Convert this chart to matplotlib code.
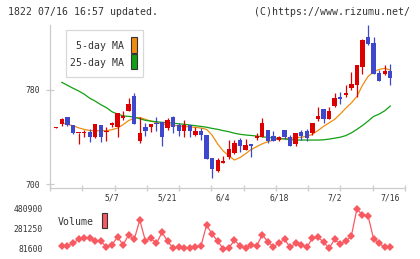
import matplotlib
matplotlib.use("Agg")
import matplotlib.pyplot as plt
from matplotlib.patches import Rectangle
import numpy as np

plt.rcParams['font.family'] = ['DejaVu Sans Mono']

# ---- data ----
opens = [748, 751.3, 757.0, 750.2, 743.1, 743.3, 744.3, 740.3, 750.2, 744.3,
         750.6, 748.2, 756.4, 762.4, 774.9, 736.6, 748.5, 748.5, 752.2, 752.8,
         748.0, 757.0, 750.2, 745.4, 750.5, 741.4, 745.4, 741.7, 722.1, 711.4,
         717.6, 722.7, 726.4, 737.4, 728.9, 733.8, 739.1, 739.7, 745.7, 740.9,
         737.7, 745.7, 740.0, 734.0, 744.3, 744.9, 743.1, 755.1, 763.8, 755.6,
         766.4, 774.0, 775.7, 781.7, 784.6, 799.9, 825.1, 820.2, 794.5, 793.6,
         796.2]
highs = [748.6, 756.4, 757.0, 750.2, 743.7, 746.0, 746.5, 751.1, 750.2, 748.2,
         753.0, 760.4, 762.1, 773.2, 777.5, 756.7, 752.2, 751.3, 756.7, 752.8,
         756.2, 757.9, 752.2, 754.5, 750.5, 748.2, 747.4, 741.7, 722.1, 722.1,
         723.8, 737.2, 737.2, 738.9, 738.3, 733.8, 743.1, 756.2, 745.7, 745.1,
         740.5, 745.7, 741.7, 743.1, 745.7, 747.1, 751.9, 765.3, 763.8, 765.3,
         777.4, 778.0, 784.3, 795.3, 801.3, 823.4, 835.3, 824.8, 797.0, 801.3,
         802.5]
lows = [747.8, 749.4, 749.4, 742.6, 733.8, 740.3, 735.5, 738.9, 735.5, 736.9,
        748.2, 740.3, 754.5, 762.4, 751.3, 735.2, 741.2, 744.6, 745.4, 732.6,
        746.0, 743.1, 741.1, 740.3, 739.7, 741.0, 737.4, 721.6, 705.4, 710.0,
        717.6, 721.6, 725.5, 727.2, 728.9, 722.7, 737.4, 739.7, 735.2, 736.6,
        736.6, 738.0, 732.6, 732.6, 737.4, 736.9, 742.0, 753.9, 751.6, 755.6,
        765.3, 767.8, 774.3, 779.7, 774.0, 793.6, 818.6, 793.4, 787.7, 792.8,
        784.6]
closes = [748, 755.3, 750.2, 743.7, 743.1, 744.3, 739.7, 751.1, 740.3, 745.0,
          751.3, 760.4, 757.9, 768.1, 751.3, 743.1, 745.4, 751.3, 750.8, 740.3,
          754.2, 748.5, 745.4, 750.0, 745.4, 745.4, 741.4, 721.6, 712.5, 720.4,
          719.3, 729.5, 734.9, 732.1, 733.2, 732.6, 741.1, 751.9, 736.6, 736.6,
          740.0, 739.7, 732.6, 743.1, 741.1, 738.9, 751.9, 757.9, 755.1, 762.4,
          772.9, 772.6, 777.7, 785.1, 801.3, 822.6, 819.4, 793.4, 787.7, 796.2,
          790.5]

ma5 = [None, 752, 750.8, 749.5, 747.8, 746.5, 745.5, 745.3, 745.4, 745.4,
       746.2, 747.6, 750.5, 754, 756, 756.6, 755, 753.5, 752.3, 751.3,
       750.5, 750, 749.5, 749, 748.6, 748.2, 747.6, 746.5, 741.5, 734,
       728, 724, 720.4, 722.5, 725.8, 729.3, 731.8, 734.2, 736, 737.4,
       738.2, 738.7, 739, 739.4, 739.8, 740.7, 742.2, 745.5, 749, 752,
       755, 759.5, 764.5, 769, 774.5, 784, 791.5, 795.5, 797.5, 798.4,
       797]
ma25 = [None, 786.5, 784, 781.5, 779.2, 776.5, 773, 770.5, 767.5, 765,
        761.5, 759.5, 758, 757.5, 757, 755.5, 754.2, 753.5, 753, 752.5,
        752.2, 751.8, 751.2, 750.8, 750.2, 749.6, 749, 748.3, 747.3, 746.5,
        745.4, 744.5, 743.2, 742.3, 741.7, 741.3, 740.8, 740.2, 739.6, 739.1,
        738.7, 738.3, 737.8, 737.4, 737.4, 737.4, 737.4, 737.4, 737.6, 738.2,
        739, 739.8, 741.2, 743.5, 746.5, 749.8, 753.5, 757.5, 759.5, 762.3,
        766.4]

volume = [None, 113000, 113000, 138000, 178000, 193000, 193000, 158000, 158000, 104000,
          121000, 204000, 121000, 224000, 178000, 371000, 164000, 188000, 138000, 248000,
          158000, 88600, 104000, 94600, 94600, 104000, 114500, 321000, 228000, 161000,
          81600, 88600, 171400, 111500, 88600, 121500, 111500, 224000, 154500, 104500,
          138500, 178400, 98600, 138500, 121500, 98600, 188400, 198400, 151500, 88600,
          178400, 131500, 158500, 211400, 480900, 421000, 414000, 181400, 138500, 98600,
          98600]

date_labels = ["5/7", "5/21", "6/4", "6/18", "7/2", "7/16"]
date_index = [10, 20, 30, 40, 50, 60]
price_ticks = [700, 780]
vol_ticks = [81600, 281250, 480900]

# ---- figure ----
W, H = 420, 259
fig = plt.figure(figsize=(W / 100, H / 100), dpi=100)

def fx(px):
    return px / W

def fy(py):
    return 1 - py / H

grey = '#cccccc'
txt = '#333333'
red = '#dd0000'
blue = '#3f48cc'

x = np.arange(len(opens))
xlim = (-1.13, 62.64)

ax = fig.add_axes([fx(50), fy(188), fx(405) - fx(50), fy(25) - fy(188)])
ax.set_xlim(*xlim)
ax.set_ylim(696.6, 835.3)
for s in ['top', 'right']:
    ax.spines[s].set_visible(False)
for s in ['left', 'bottom']:
    ax.spines[s].set_color(grey)
    ax.spines[s].set_linewidth(0.9)

# candles
o = np.array(opens); c = np.array(closes); h = np.array(highs); l = np.array(lows)
up = c >= o
cols = np.where(up, red, blue)
ax.vlines(x, l, h, colors=cols, linewidth=0.9, zorder=3)
body_h = np.maximum(np.abs(c - o), 0.9)
ax.bar(x, body_h, bottom=np.minimum(o, c), width=0.78, color=cols, linewidth=0, zorder=4)

# moving averages
xm = [i for i, v in enumerate(ma5) if v is not None]
ax.plot(xm, [ma5[i] for i in xm], color='#f08c10', linewidth=0.9, zorder=2)
xm2 = [i for i, v in enumerate(ma25) if v is not None]
ax.plot(xm2, [ma25[i] for i in xm2], color='#12a012', linewidth=0.9, zorder=2)

# ticks
ax.set_yticks(price_ticks)
ax.set_yticklabels([str(t) for t in price_ticks])
ax.tick_params(axis='y', direction='inout', length=5.8, width=0.9, color=grey,
               labelsize=5.8, labelcolor=txt, pad=4.6)
ax.set_xticks(np.linspace(xlim[0], xlim[1], 12))
ax.set_xticklabels([])
ax.tick_params(axis='x', which='major', direction='inout', length=4.3, width=0.9, color=grey)
ax.set_xticks(date_index, minor=True)
ax.set_xticklabels(date_labels, minor=True)
ax.tick_params(axis='x', which='minor', length=0, labelsize=5.8, labelcolor=txt, pad=4.2)

# legend box (main)
fig.add_artist(Rectangle((fx(65.7), fy(77.3)), fx(143.3) - fx(65.7), fy(30) - fy(77.3),
                         transform=fig.transFigure, facecolor='white', edgecolor='#d8d8d8',
                         linewidth=0.9, zorder=10))
fig.text(fx(123.5), fy(46), "5-day MA", ha='right', va='center', fontsize=7.1, color=txt, zorder=11)
fig.text(fx(123.5), fy(63.3), "25-day MA", ha='right', va='center', fontsize=7.1, color=txt, zorder=11)
fig.add_artist(Rectangle((fx(131), fy(53.3)), fx(137.3) - fx(131), fy(37.3) - fy(53.3),
                         transform=fig.transFigure, facecolor='#f08c10', edgecolor='#333333',
                         linewidth=0.8, zorder=11))
fig.add_artist(Rectangle((fx(131), fy(69.3)), fx(137.3) - fx(131), fy(54.3) - fy(69.3),
                         transform=fig.transFigure, facecolor='#12a012', edgecolor='#333333',
                         linewidth=0.8, zorder=11))

# volume panel
vax = fig.add_axes([fx(50), fy(253), fx(405) - fx(50), fy(205) - fy(253)])
vax.set_xlim(*xlim)
vax.set_ylim(41670, 520830)
for s in vax.spines.values():
    s.set_visible(False)
xv = [i for i, v in enumerate(volume) if v is not None]
vax.plot(xv, [volume[i] for i in xv], color='#f85a62', linewidth=0.9,
         marker='D', markersize=4.3, markeredgewidth=0, markerfacecolor='#f85a62')
vax.set_xticks([])
vax.set_yticks(vol_ticks)
vax.set_yticklabels([str(t) for t in vol_ticks])
vax.tick_params(axis='y', length=0, labelsize=5.8, labelcolor=txt, pad=5)
fig.text(fx(58), fy(222.3), "Volume", ha='left', va='center', fontsize=7.1, color=txt)
fig.add_artist(Rectangle((fx(101.7), fy(228.3)), fx(107.3) - fx(101.7), fy(213.3) - fy(228.3),
                         transform=fig.transFigure, facecolor='#f85a62', edgecolor='#333333',
                         linewidth=0.8))

# header
fig.text(fx(8), fy(12), "1822 07/16 16:57 updated.", ha='left', va='center', fontsize=7.1, color=txt)
fig.text(fx(410), fy(12), "(C)https://www.rizumu.net/", ha='right', va='center', fontsize=7.1, color=txt)

fig.savefig("out.png", dpi=100)
